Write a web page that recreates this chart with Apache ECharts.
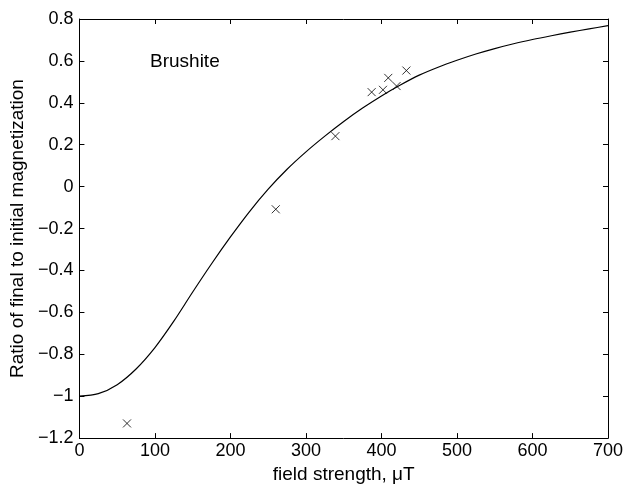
<!DOCTYPE html>
<html>
<head>
<meta charset="utf-8">
<script src="https://cdn.jsdelivr.net/npm/echarts@6/dist/echarts.min.js"></script>
<style>html,body{margin:0;padding:0;background:#fff;}#c{width:629px;height:489px;}</style>
</head>
<body>
<div id="c"></div>
<script>
// Model curve (field strength in µT, ratio)
const curveX = [0,25,50,75,100,125,150,175,200,225,250,275,300,325,350,375,400,425,450,475,500,525,550,575,600,625,650,675,700];
const curveY = [-1.0,-0.988,-0.945,-0.87,-0.768,-0.642,-0.503,-0.368,-0.24,-0.12,-0.012,0.083,0.166,0.241,0.311,0.375,0.433,0.485,0.532,0.57,0.603,0.633,0.659,0.682,0.702,0.72,0.737,0.753,0.768];
// Measured points
const measX = [63,260,339,387,402,409,420,433];
const measY = [-1.13,-0.108,0.241,0.451,0.462,0.519,0.48,0.554];
const xTicks = [0,100,200,300,400,500,600,700];
const yTicks = [-1.2,-1,-0.8,-0.6,-0.4,-0.2,0,0.2,0.4,0.6,0.8];
const annotation = 'Brushite';

const font = 'Liberation Sans, Arial, Helvetica, sans-serif';
const chart = echarts.init(document.getElementById('c'), null, {renderer:'canvas'});
function fmtY(v){
  let s = (Math.round(v*10)/10).toString();
  return s.replace('-', '\u2212');
}
const axisLine = {show:true, onZero:false, lineStyle:{color:'#000', width:1}};
const tick = {show:true, inside:true, length:5, lineStyle:{color:'#000', width:1}};
chart.setOption({
  animation:false,
  backgroundColor:'#fff',
  grid:{left:73, right:21, top:19, bottom:47, containLabel:false},
  xAxis:[{
    type:'value', min:0, max:700, interval:100, position:'bottom',
    axisLine:axisLine, axisTick:tick, splitLine:{show:false},
    axisLabel:{color:'#000', fontSize:18, fontFamily:font, margin:4},
    name:'field strength, \u03bcT', nameLocation:'middle', nameGap:24,
    nameTextStyle:{color:'#000', fontSize:19, fontFamily:font}
  },{
    type:'value', min:0, max:700, interval:100, position:'top',
    axisLine:axisLine, axisTick:tick, splitLine:{show:false}, axisLabel:{show:false}
  }],
  yAxis:[{
    type:'value', min:-1.2, max:0.8, interval:0.2, position:'left',
    axisLine:axisLine, axisTick:tick, splitLine:{show:false},
    axisLabel:{color:'#000', fontSize:18, fontFamily:font, margin:6, formatter:fmtY},
    name:'Ratio of final to initial magnetization', nameLocation:'middle', nameGap:46,
    nameTextStyle:{color:'#000', fontSize:19, fontFamily:font}
  },{
    type:'value', min:-1.2, max:0.8, interval:0.2, position:'right',
    axisLine:axisLine, axisTick:tick, splitLine:{show:false}, axisLabel:{show:false}
  }],
  series:[{
    type:'line', data:curveX.map((x,i)=>[x,curveY[i]]), smooth:0.3,
    showSymbol:false, lineStyle:{color:'#000', width:1.2}
  },{
    type:'scatter', data:measX.map((x,i)=>[x,measY[i]]),
    symbol:'path://M0,0L10,10M10,0L0,10', symbolSize:8,
    itemStyle:{color:'rgba(0,0,0,0)', borderColor:'#000', borderWidth:1}
  }],
  graphic:[{
    type:'text', left:150, top:52,
    style:{text:annotation, fill:'#000', font:'19px ' + font}
  }]
});
</script>
</body>
</html>
